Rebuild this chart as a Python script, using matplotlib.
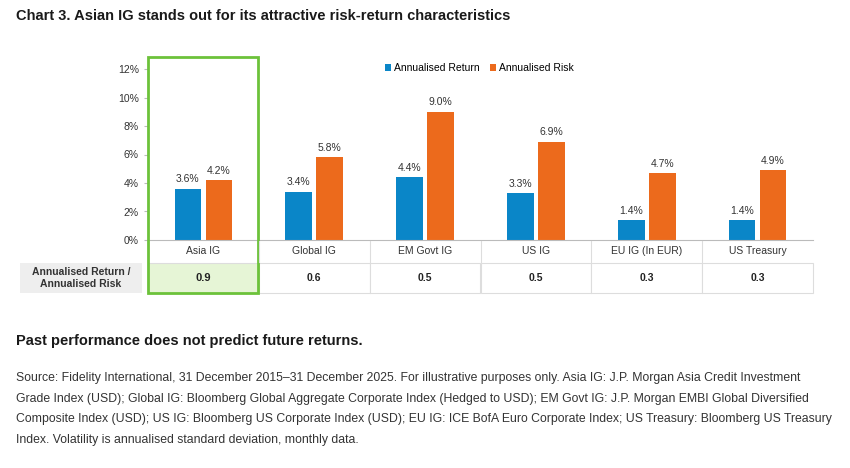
import numpy as np
import matplotlib.pyplot as plt
from matplotlib.patches import Rectangle

categories = ["Asia IG", "Global IG", "EM Govt IG", "US IG", "EU IG (In EUR)", "US Treasury"]
ret = [3.6, 3.4, 4.4, 3.3, 1.4, 1.4]
risk = [4.2, 5.8, 9.0, 6.9, 4.7, 4.9]
ratio = ["0.9", "0.6", "0.5", "0.5", "0.3", "0.3"]

W, H = 850, 468
fig = plt.figure(figsize=(8.5, 4.68), dpi=100)
plt.rcParams['font.family'] = 'Liberation Sans'

def fx(px): return px / W
def fy(py): return 1 - py / H

ax = fig.add_axes([fx(148), fy(240), fx(813) - fx(148), fy(69) - fy(240)])
x = np.arange(len(categories))
blue, orange = "#0a86c8", "#ec6a1c"
ax.bar(x - 0.14, ret, 0.24, color=blue, label="Annualised Return")
ax.bar(x + 0.14, risk, 0.24, color=orange, label="Annualised Risk")
for i in range(len(x)):
    ax.text(x[i] - 0.14, ret[i] + 0.3, f"{ret[i]:.1f}%", ha="center", va="bottom", fontsize=7.5, color="#333")
    ax.text(x[i] + 0.14, risk[i] + 0.3, f"{risk[i]:.1f}%", ha="center", va="bottom", fontsize=7.5, color="#333")
ax.set_xlim(-0.5, len(x) - 0.5)
ax.set_ylim(0, 12)
ax.set_yticks(range(0, 13, 2))
ax.set_yticklabels([f"{v}%" for v in range(0, 13, 2)], fontsize=7.5, color="#333")
ax.set_xticks([])
for s in ["top", "right", "left"]:
    ax.spines[s].set_visible(False)
ax.spines["bottom"].set_color("#bbbbbb")
ax.tick_params(axis="y", length=3, color="#bbbbbb")
ax.legend(loc="upper right", bbox_to_anchor=(0.655, 1.09), ncol=2, frameon=False,
          fontsize=7.5, handlelength=0.6, handleheight=0.6, columnspacing=1.0, handletextpad=0.3)

# category labels and table
cw = (813 - 148) / len(categories)
for i, c in enumerate(categories):
    x0 = 148 + i * cw
    fig.text(fx(x0 + cw / 2), fy(251), c, ha="center", va="center", fontsize=7.5, color="#333")
    if i > 0:
        fig.add_artist(plt.Line2D([fx(x0), fx(x0)], [fy(241), fy(262)], color="#dddddd", lw=0.8))
    fc = "#e6f5d6" if i == 0 else "white"
    fig.add_artist(Rectangle((fx(x0), fy(293)), fx(cw), fy(263) - fy(293), facecolor=fc,
                             edgecolor="#dddddd", lw=0.8))
    fig.text(fx(x0 + cw / 2), fy(278), ratio[i], ha="center", va="center", fontsize=8 if i == 0 else 7.5,
             fontweight="bold", color="#222")
fig.add_artist(Rectangle((fx(20), fy(293)), fx(122), fy(263) - fy(293), facecolor="#eeeeee", edgecolor="none"))
fig.text(fx(81), fy(278), "Annualised Return /\nAnnualised Risk", ha="center", va="center",
         fontsize=7.5, fontweight="bold", color="#333", linespacing=1.3)
fig.add_artist(Rectangle((fx(148), fy(293)), fx(110), fy(57) - fy(293), facecolor="none",
                         edgecolor="#6cc23a", lw=2))

fig.text(fx(16), fy(16), "Chart 3. Asian IG stands out for its attractive risk-return characteristics",
         ha="left", va="center", fontsize=10.5, fontweight="bold", color="#1a1a1a")
fig.text(fx(16), fy(341), "Past performance does not predict future returns.",
         ha="left", va="center", fontsize=10.5, fontweight="bold", color="#1a1a1a")
src = ("Source: Fidelity International, 31 December 2015\u201331 December 2025. For illustrative purposes only. Asia IG: J.P. Morgan Asia Credit Investment\n"
       "Grade Index (USD); Global IG: Bloomberg Global Aggregate Corporate Index (Hedged to USD); EM Govt IG: J.P. Morgan EMBI Global Diversified\n"
       "Composite Index (USD); US IG: Bloomberg US Corporate Index (USD); EU IG: ICE BofA Euro Corporate Index; US Treasury: Bloomberg US Treasury\n"
       "Index. Volatility is annualised standard deviation, monthly data.")
fig.text(fx(16), fy(372), src, ha="left", va="top", fontsize=8.8, color="#333", linespacing=1.95)

fig.savefig("out.png", dpi=100)
